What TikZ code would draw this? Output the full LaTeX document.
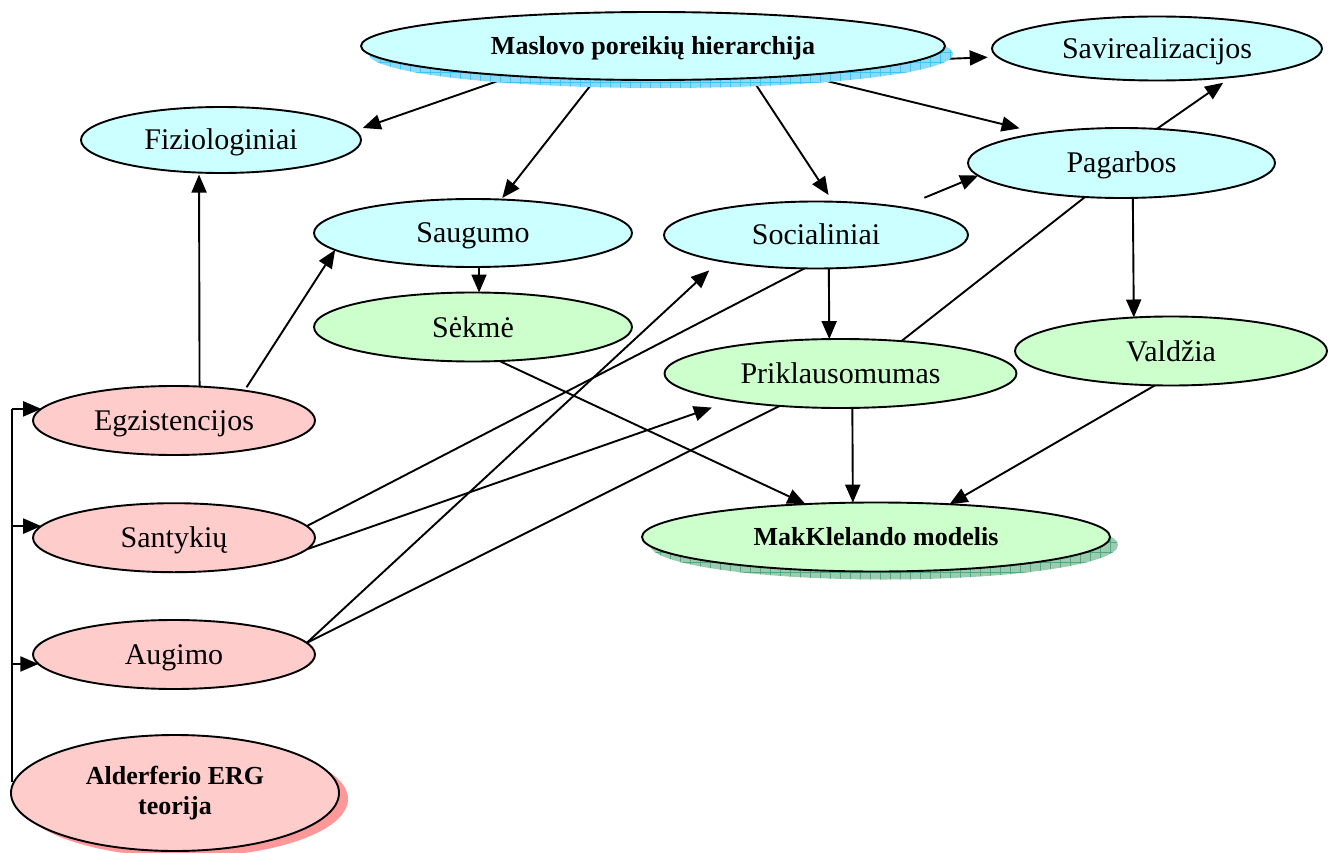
\documentclass[tikz,border=0pt]{standalone}
\usepackage{fontspec}
\setmainfont{Liberation Serif}
\usetikzlibrary{arrows.meta,shapes.geometric,shadows,patterns.meta}

\definecolor{needblue}{HTML}{CCFFFF}
\definecolor{needgreen}{HTML}{CCFFCC}
\definecolor{needpink}{HTML}{FFCCCC}
\definecolor{shadeblue}{HTML}{3CC6F6}
\definecolor{shadebluebase}{HTML}{8CDAF8}
\definecolor{shadegreen}{HTML}{4FA87E}
\definecolor{shadegreenbase}{HTML}{9CCCB0}
\definecolor{shadepink}{HTML}{FF9999}

\pgfdeclarelayer{backdrop}
\pgfdeclarelayer{links}
\pgfsetlayers{backdrop,links,main}

\tikzset{
  need/.style={ellipse, draw=black, line width=1.9pt, inner sep=0pt, outer sep=0pt,
               font=\fontsize{30}{34}\selectfont, text height=26pt, text depth=6pt},
  maslowneed/.style={need, fill=needblue},
  mccneed/.style={need, fill=needgreen},
  ergneed/.style={need, fill=needpink},
  headline/.style={font=\fontsize{26}{30}\selectfont\bfseries, align=center,
                   text height=22pt, text depth=5pt},
  gridshadow/.style 2 args={drop shadow={shadow xshift=8pt, shadow yshift=-8pt,
      fill=#1, opacity=1,
      postaction={pattern={Lines[distance=10pt,angle=0,line width=1pt]}, pattern color=#2},
      postaction={pattern={Lines[distance=10pt,angle=90,line width=1pt]}, pattern color=#2}}},
  conn/.style={line width=1.9pt},
  conntip/.style={conn, -{Triangle[length=18pt,width=15pt]}},
}

\begin{document}
\begin{tikzpicture}[x=1pt,y=-1pt]
  \begin{pgfonlayer}{backdrop}
    \fill[white] (0,0) rectangle (1331,853);
  \end{pgfonlayer}
  \useasboundingbox (0,0) rectangle (1331,853);

  % Maslow hierarchy
  \node[maslowneed, headline, minimum width=584pt, minimum height=68pt,
        gridshadow={shadebluebase}{shadeblue}]
        (M) at (653,46) {Maslovo poreikių hierarchija};
  \node[maslowneed, minimum width=330pt, minimum height=64pt] (Sav) at (1157,48.5) {Savirealizacijos};
  \node[maslowneed, minimum width=280pt, minimum height=66pt] (Fiz) at (221,140) {Fiziologiniai};
  \node[maslowneed, minimum width=307pt, minimum height=70pt] (Pag) at (1121.5,163) {Pagarbos};
  \node[maslowneed, minimum width=318pt, minimum height=68pt] (Sau) at (473,233) {Saugumo};
  \node[maslowneed, minimum width=304pt, minimum height=67pt] (Soc) at (816,235) {Socialiniai};

  % McClelland model
  \node[mccneed, minimum width=318pt, minimum height=69pt] (Sek) at (473,327) {Sėkmė};
  \node[mccneed, minimum width=352pt, minimum height=69pt] (Pri) at (840.5,373.5) {Priklausomumas};
  \node[mccneed, minimum width=312pt, minimum height=69pt] (Val) at (1171,351) {Valdžia};
  \node[mccneed, headline, minimum width=468pt, minimum height=69pt,
        gridshadow={shadegreenbase}{shadegreen}]
        (Mak) at (876,537) {MakKlelando modelis};

  % Alderfer ERG
  \node[ergneed, minimum width=282pt, minimum height=69pt] (Egz) at (174,420.5) {Egzistencijos};
  \node[ergneed, minimum width=282pt, minimum height=69pt] (San) at (174,537.7) {Santykių};
  \node[ergneed, minimum width=282pt, minimum height=69pt] (Aug) at (174,654.5) {Augimo};
  \node[ergneed, headline, text height=, text depth=, minimum width=328pt, minimum height=116pt,
        drop shadow={shadow xshift=9pt, shadow yshift=-6pt, fill=shadepink, opacity=1}]
        (Ald) at (175,793) {Alderferio ERG\\teorija};

  \coordinate (spine) at (12,0);

  \begin{pgfonlayer}{links}
    % from the Maslow hierarchy
    \draw[conntip, shorten >=8pt]  (M.192.7) -- (Fiz.4);
    \draw[conntip, shorten >=2pt]  (M.210.2) -- (Sau.50.1);
    \draw[conntip, shorten >=8pt]  (M.342.7) -- (Soc.63.2);
    \draw[conntip, shorten >=21pt] (M.349.9) -- (Pag.160.9);
    \draw[conntip, shorten >=10pt] (M.357.5) -- (Sav.183.6);
    \draw[conntip, shorten >=10pt] (Pag.44.4) -- (Sav.339.4);
    \draw[conntip, shorten <=25pt] (Soc.18.8) -- (Pag.185.9);

    % Maslow needs to McClelland needs
    \draw[conntip] (Soc.291.3) -- (Pri.108.5);
    \draw[conntip] (Sau.280) -- (Sek.80.1);
    \draw[conntip] (Pag.288.2) -- (Val.138.6);
    \draw[conn]    (Pag.223.8) -- (Pri.28.9);

    % McClelland needs to the model
    \draw[conntip] (Sek.308.5) -- (Mak.155.8);
    \draw[conntip] (Pri.289.2) -- (Mak.124.2);
    \draw[conntip] (Val.245) -- (Mak.24.4);

    % ERG needs
    \draw[conntip, shorten >=2pt]  (Egz.53.7) -- (Fiz.236);
    \draw[conntip, shorten <=4pt]  (Egz.23.2) -- (Sau.187.2);
    \draw[conn]                    (San.5.3) -- (Soc.251.8);
    \draw[conntip, shorten >=21pt] (San.355.3) -- (Pri.194);
    \draw[conntip, shorten >=14pt] (Aug.5.1) -- (Soc.195.6);
    \draw[conn]                    (Aug.5.1) -- (Pri.208.9);

    % ERG bracket
    \draw[conn] (spine |- Egz.175) -- (spine |- Ald.176);
    \draw[conntip] (spine |- Egz.175) -- (Egz.175);
    \draw[conntip] (spine |- San.175) -- (San.175);
    \draw[conntip] (spine |- Aug.184.9) -- (Aug.184.9);
  \end{pgfonlayer}
\end{tikzpicture}
\end{document}
